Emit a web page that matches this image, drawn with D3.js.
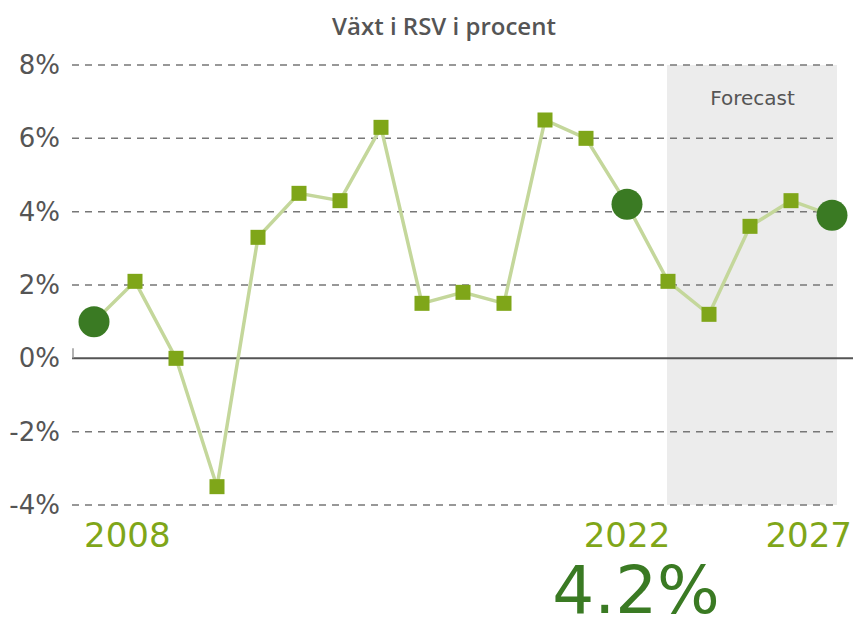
<!DOCTYPE html>
<html>
<head>
<meta charset="utf-8">
<script src="https://cdn.jsdelivr.net/npm/d3@7"></script>
<style>
  body { margin: 0; background: #fff; }
  text { font-family: "DejaVu Sans", sans-serif; }
</style>
</head>
<body>
<script>
// growth in RSV, percent per year
var years = [2009, 2010, 2011, 2012, 2013, 2014, 2015, 2016, 2017, 2018,
             2019, 2020, 2021, 2022, 2023, 2024, 2025, 2026, 2027];
var growth = [1.0, 2.1, 0.0, -3.5, 3.3, 4.5, 4.3, 6.3, 1.5, 1.8,
              1.5, 6.5, 6.0, 4.2, 2.1, 1.2, 3.6, 4.3, 3.9];
var highlighted = [2009, 2022, 2027];
var forecastYears = [2023, 2027];
var yTicks = [-4, -2, 0, 2, 4, 6, 8];
var yearLabels = ["2008", "2022", "2027"];
var yearLabelAt = [2009, 2022, 2027];
var bigValue = "4.2%";

var W = 856, H = 617;
var svg = d3.select("body").append("svg").attr("width", W).attr("height", H);

var x = d3.scalePoint().domain(years).range([94, 832]);
var y = d3.scaleLinear().domain([-4, 8]).range([505, 65]);
var left = 72, right = 837;

svg.append("text").attr("x", 444).attr("y", 35)
  .attr("text-anchor", "middle").attr("font-size", 24).attr("font-weight", 600)
  .style("font-family", "'Open Sans', sans-serif")
  .attr("fill", "#555").text("Växt i RSV i procent");

// forecast band
svg.append("rect")
  .attr("x", x(forecastYears[0]) - 1).attr("y", y(8))
  .attr("width", right - x(forecastYears[0]) + 1).attr("height", y(-4) - y(8))
  .attr("fill", "#ececec");
svg.append("text").attr("x", (x(forecastYears[0]) + right) / 2).attr("y", 105)
  .attr("text-anchor", "middle").attr("font-size", 20).attr("fill", "#555").text("Forecast");

// grid
svg.append("g").selectAll("line").data(yTicks.filter(d => d != 0)).join("line")
  .attr("x1", left).attr("x2", right)
  .attr("y1", d => y(d)).attr("y2", d => y(d))
  .attr("stroke", "#777").attr("stroke-width", 1.5).attr("stroke-dasharray", "7,6");

svg.append("line").attr("x1", left).attr("x2", 853).attr("y1", y(0)).attr("y2", y(0))
  .attr("stroke", "#555").attr("stroke-width", 2);
svg.append("line").attr("x1", left + 1).attr("x2", left + 1).attr("y1", y(0) - 10).attr("y2", y(0))
  .attr("stroke", "#999").attr("stroke-width", 1.5);

svg.append("g").selectAll("text").data(yTicks).join("text")
  .attr("x", 60).attr("y", d => y(d) + 9)
  .attr("text-anchor", "end").attr("font-size", 26).attr("fill", "#555")
  .text(d => d + "%");

// line + markers
var pts = years.map((yr, i) => ({year: yr, v: growth[i]}));
svg.append("path").datum(pts)
  .attr("d", d3.line().x(d => x(d.year)).y(d => y(d.v)))
  .attr("fill", "none").attr("stroke", "#c4d79b").attr("stroke-width", 3.5);

svg.append("g").selectAll("rect").data(pts.filter(d => !highlighted.includes(d.year))).join("rect")
  .attr("x", d => x(d.year) - 7.5).attr("y", d => y(d.v) - 7.5)
  .attr("width", 15).attr("height", 15).attr("fill", "#7fa619");

svg.append("g").selectAll("circle").data(pts.filter(d => highlighted.includes(d.year))).join("circle")
  .attr("cx", d => x(d.year)).attr("cy", d => y(d.v)).attr("r", 15.5)
  .attr("fill", "#3a7a23");

// year labels
svg.append("g").selectAll("text").data(yearLabels).join("text")
  .attr("x", (d, i) => i == 0 ? x(yearLabelAt[i]) - 10 : i == 2 ? x(yearLabelAt[i]) + 20 : x(yearLabelAt[i]))
  .attr("y", 547)
  .attr("text-anchor", (d, i) => i == 0 ? "start" : i == 2 ? "end" : "middle")
  .attr("font-size", 34).attr("fill", "#7fa619").text(d => d);

svg.append("text").attr("x", 636).attr("y", 613)
  .attr("text-anchor", "middle").attr("font-size", 66).attr("fill", "#3a7a23")
  .text(bigValue);
</script>
</body>
</html>
